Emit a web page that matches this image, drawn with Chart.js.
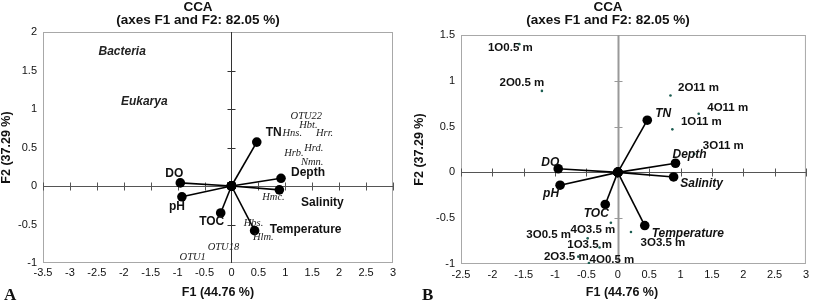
<!DOCTYPE html>
<html>
<head>
<meta charset="utf-8">
<script src="https://cdn.jsdelivr.net/npm/chart.js@4.4.1/dist/chart.umd.min.js"></script>
<style>
  body { margin: 0; background: #fff; width: 813px; height: 302px; overflow: hidden; position: relative; }
  #chartA { position: absolute; left: 0; top: 0; }
  #chartB { position: absolute; left: 410px; top: 0; }
</style>
</head>
<body>
<canvas id="chartA" width="410" height="302"></canvas>
<canvas id="chartB" width="403" height="302"></canvas>
<script>
// environmental vectors (same in both panels)
const envNames = ['TN', 'Depth', 'Salinity', 'Temperature', 'TOC', 'DO', 'pH'];
const envF1 = [0.47, 0.92, 0.89, 0.43, -0.20, -0.95, -0.92];
const envF2 = [0.57, 0.10, -0.05, -0.58, -0.35, 0.04, -0.14];

// panel A : taxa
const taxaNames = ['OTU22', 'Hbt.', 'Hns.', 'Hrr.', 'Hrd.', 'Hrb.', 'Nmn.', 'Hmc.', 'Hbs.', 'Hlm.', 'OTU18', 'OTU1'];
const taxaF1 = [1.39, 1.43, 1.13, 1.73, 1.53, 1.16, 1.50, 0.78, 0.41, 0.59, -0.15, -0.72];
const taxaF2 = [0.91, 0.79, 0.68, 0.68, 0.49, 0.43, 0.31, -0.15, -0.48, -0.66, -0.80, -0.92];
const domainNames = ['Bacteria', 'Eukarya'];
const domainF1 = [-2.03, -1.62];
const domainF2 = [1.75, 1.10];

// panel B : samples
const sampleNames = ['1O0.5 m', '2O0.5 m', '3O0.5 m', '4O0.5 m', '1O3.5 m', '2O3.5 m',
                     '3O3.5 m', '4O3.5 m', '1O11 m', '2O11 m', '3O11 m', '4O11 m'];
const sampleF1 = [-1.57, -1.21, -0.48, -0.46, -0.29, -0.63, 0.21, -0.11, 0.87, 0.84, 1.22, 1.29];
const sampleF2 = [1.40, 0.89, -0.72, -0.99, -0.82, -0.92, -0.65, -0.55, 0.47, 0.84, 0.20, 0.64];

// tick labels
const xTicksA = [-3.5, -3, -2.5, -2, -1.5, -1, -0.5, 0, 0.5, 1, 1.5, 2, 2.5, 3];
const yTicksA = [-1, -0.5, 0, 0.5, 1, 1.5, 2];
const xTicksB = [-2.5, -2, -1.5, -1, -0.5, 0, 0.5, 1, 1.5, 2, 2.5, 3];
const yTicksB = [-1, -0.5, 0, 0.5, 1, 1.5];

// label placement (pixel offsets from the point)
const envOffsetA = [[17, -9], [27, -6], [43, 13], [51, -1], [-9, 9], [-6, -9], [-5, 10]];
const envOffsetB = [[16, -7], [14, -9], [28, 7], [43, 8], [-9, 9], [-8, -6], [-9, 8]];
const sampleOffset = [[-9, 4], [-20, -8], [-39, -4], [23, -3], [-10, -3], [-12, 0],
                      [32, 11], [-18, 7], [29, -8], [28, -8], [29, -8], [29, -6]];

const SANS = "'Liberation Sans', Arial, sans-serif";
const SERIF = "'Liberation Serif', 'Times New Roman', serif";

const pts = (xs, ys) => xs.map((v, i) => ({ x: v, y: ys[i] }));

function vectorSets() {
  return envNames.map((n, i) => ({
    label: n,
    data: [{ x: 0, y: 0 }, { x: envF1[i], y: envF2[i] }],
    showLine: true,
    borderColor: '#000',
    borderWidth: 1.6,
    pointRadius: 4.8,
    pointBackgroundColor: '#000',
    pointBorderColor: '#000',
    pointBorderWidth: 0
  }));
}

// frame, zero axes with cross ticks
const frameAxes = {
  id: 'frameAxes',
  beforeDatasetsDraw(chart, args, opts) {
    const { ctx, chartArea: a, scales: { x, y } } = chart;
    ctx.save();
    ctx.strokeStyle = '#a8a8a8';
    ctx.lineWidth = 1;
    ctx.strokeRect(a.left + 0.5, a.top + 0.5, a.width - 1, a.height - 1);

    const x0 = Math.round(x.getPixelForValue(0)) + 0.5;
    const y0 = Math.round(y.getPixelForValue(0)) + 0.5;

    ctx.strokeStyle = '#555';
    ctx.lineWidth = 1;
    ctx.beginPath();
    ctx.moveTo(a.left, y0); ctx.lineTo(a.right, y0);
    x.ticks.forEach(t => {
      const p = Math.round(x.getPixelForValue(t.value)) + 0.5;
      ctx.moveTo(p, y0 - 4); ctx.lineTo(p, y0 + 4);
    });
    ctx.stroke();

    ctx.strokeStyle = opts.vColor;
    ctx.lineWidth = opts.vWidth;
    ctx.beginPath();
    ctx.moveTo(x0, a.top); ctx.lineTo(x0, a.bottom);
    ctx.stroke();
    ctx.lineWidth = 1;
    ctx.beginPath();
    y.ticks.forEach(t => {
      const p = Math.round(y.getPixelForValue(t.value)) + 0.5;
      if (p > a.bottom - 2 || p < a.top + 2) return;
      ctx.moveTo(x0 - 4, p); ctx.lineTo(x0 + 4, p);
    });
    ctx.stroke();
    ctx.restore();
  }
};

// all text: point labels, titles, axis titles, panel letter
const textLayer = {
  id: 'textLayer',
  afterDatasetsDraw(chart, args, opts) {
    const { ctx, chartArea: a, scales: { x, y } } = chart;
    ctx.save();
    ctx.textAlign = 'center';
    ctx.textBaseline = 'middle';
    (opts.labels || []).forEach(l => {
      ctx.font = l.font;
      ctx.fillStyle = l.color || '#111';
      ctx.fillText(l.text, x.getPixelForValue(l.x) + (l.dx || 0), y.getPixelForValue(l.y) + (l.dy || 0));
    });

    ctx.fillStyle = '#111';
    ctx.font = 'bold 13.5px ' + SANS;
    ctx.fillText('CCA', opts.titleX, 7);
    ctx.fillText('(axes F1 and F2: 82.05 %)', opts.titleX, 20);

    ctx.font = 'bold 12.5px ' + SANS;
    ctx.fillText('F1 (44.76 %)', opts.xTitleX, 293);
    ctx.save();
    ctx.translate(opts.yTitleX, (a.top + a.bottom) / 2);
    ctx.rotate(-Math.PI / 2);
    ctx.fillText('F2 (37.29 %)', 0, 0);
    ctx.restore();

    ctx.textAlign = 'left';
    ctx.textBaseline = 'alphabetic';
    ctx.font = 'bold 17px ' + SERIF;
    ctx.fillText(opts.letter, opts.letterX, 300);
    ctx.restore();
  }
};

function scalesFor(xTicks, yTicks, yWidth, xHeight, xPad) {
  const tickFont = { family: SANS, size: 11 };
  return {
    x: {
      type: 'linear',
      min: xTicks[0], max: xTicks[xTicks.length - 1],
      afterBuildTicks: s => { s.ticks = xTicks.map(v => ({ value: v })); },
      afterFit: s => { s.height = xHeight; },
      grid: { display: false, drawTicks: false },
      border: { display: false },
      ticks: { padding: xPad, font: tickFont, color: '#111', autoSkip: false, maxRotation: 0, callback: v => String(v) }
    },
    y: {
      type: 'linear',
      min: yTicks[0], max: yTicks[yTicks.length - 1],
      afterBuildTicks: s => { s.ticks = yTicks.map(v => ({ value: v })); },
      afterFit: s => { s.width = yWidth; },
      grid: { display: false, drawTicks: false },
      border: { display: false },
      ticks: { padding: 6, font: tickFont, color: '#111', autoSkip: false, callback: v => String(v) }
    }
  };
}

// ---------- panel A ----------
const labelsA = [];
envNames.forEach((n, i) => labelsA.push({
  text: n, x: envF1[i], y: envF2[i], dx: envOffsetA[i][0], dy: envOffsetA[i][1], font: 'bold 12px ' + SANS
}));
taxaNames.forEach((n, i) => labelsA.push({
  text: n, x: taxaF1[i], y: taxaF2[i], font: 'italic 10.5px ' + SERIF, color: '#222'
}));
domainNames.forEach((n, i) => labelsA.push({
  text: n, x: domainF1[i], y: domainF2[i], font: 'bold italic 12px ' + SANS, color: '#222'
}));

new Chart(document.getElementById('chartA'), {
  type: 'scatter',
  data: {
    datasets: [
      ...vectorSets(),
      { label: 'taxa', data: pts(taxaF1, taxaF2), pointRadius: 0 },
      { label: 'domains', data: pts(domainF1, domainF2), pointRadius: 0 }
    ]
  },
  options: {
    responsive: false,
    animation: false,
    events: [],
    layout: { padding: { top: 32, right: 17, left: 0, bottom: 0 } },
    scales: scalesFor(xTicksA, yTicksA, 43, 39, 3),
    plugins: {
      legend: { display: false },
      tooltip: { enabled: false },
      frameAxes: { vColor: '#333', vWidth: 1 },
      textLayer: { labels: labelsA, titleX: 198, xTitleX: 218, yTitleX: 7, letter: 'A', letterX: 4 }
    }
  },
  plugins: [frameAxes, textLayer]
});

// ---------- panel B ----------
const labelsB = [];
envNames.forEach((n, i) => labelsB.push({
  text: n, x: envF1[i], y: envF2[i], dx: envOffsetB[i][0], dy: envOffsetB[i][1], font: 'bold italic 12px ' + SANS
}));
sampleNames.forEach((n, i) => labelsB.push({
  text: n, x: sampleF1[i], y: sampleF2[i], dx: sampleOffset[i][0], dy: sampleOffset[i][1], font: 'bold 11.5px ' + SANS
}));

new Chart(document.getElementById('chartB'), {
  type: 'scatter',
  data: {
    datasets: [
      ...vectorSets(),
      {
        label: 'samples', data: pts(sampleF1, sampleF2),
        pointRadius: 1.3, pointBackgroundColor: '#1d5e52', pointBorderWidth: 0
      }
    ]
  },
  options: {
    responsive: false,
    animation: false,
    events: [],
    layout: { padding: { top: 35, right: 6, left: 0, bottom: 0 } },
    scales: scalesFor(xTicksB, yTicksB, 51, 38, 4),
    plugins: {
      legend: { display: false },
      tooltip: { enabled: false },
      frameAxes: { vColor: '#999', vWidth: 2 },
      textLayer: { labels: labelsB, titleX: 198, xTitleX: 212, yTitleX: 10, letter: 'B', letterX: 12 }
    }
  },
  plugins: [frameAxes, textLayer]
});
</script>
</body>
</html>
